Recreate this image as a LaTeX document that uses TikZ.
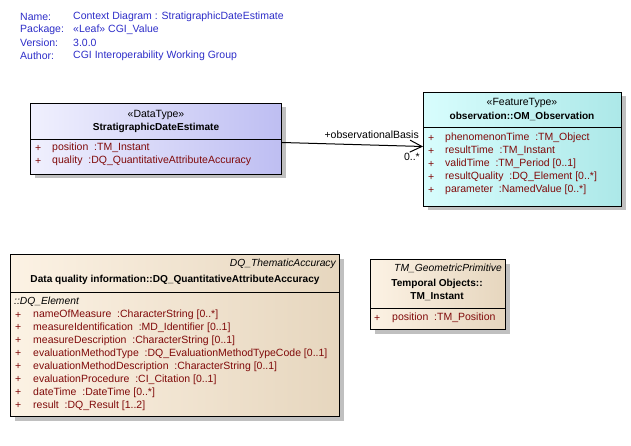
\documentclass[tikz,border=0pt]{standalone}
\usepackage{fontspec}
\setmainfont{Liberation Sans}
\usetikzlibrary{shadows,calc,arrows.meta}
\definecolor{hdrblue}{RGB}{45,45,200}
\definecolor{attred}{RGB}{128,10,10}
\definecolor{dtL}{RGB}{240,240,254}
\definecolor{dtR}{RGB}{190,190,242}
\definecolor{ftL}{RGB}{216,253,253}
\definecolor{ftR}{RGB}{172,232,232}
\definecolor{clL}{RGB}{252,242,228}
\definecolor{clR}{RGB}{230,214,190}
\definecolor{shadowgray}{RGB}{192,192,192}
\tikzset{
  classbox/.style={draw=black, line width=1pt, inner sep=0pt, anchor=north west,
    drop shadow={shadow xshift=4pt, shadow yshift=-4pt, fill=shadowgray, opacity=1}},
  txt/.style={inner sep=0pt, anchor=west},
  hdr/.style={txt, text=hdrblue},
  attr/.style={txt, text=attred},
  stereo/.style={inner sep=0pt},
  cname/.style={inner sep=0pt, font=\fontsize{10.1}{12}\selectfont\bfseries},
  ital/.style={inner sep=0pt, font=\fontsize{10.3}{12}\selectfont\itshape},
  divider/.style={draw=black, line width=1pt},
  assoc/.style={draw=black, line width=1pt, -{Straight Barb[length=12pt,width=12pt,line width=1pt]}},
  lbl/.style={inner sep=0pt}
}
\begin{document}
\begin{tikzpicture}[x=1pt,y=-1pt, font=\fontsize{10.5}{12}\selectfont]
\useasboundingbox (0,0) rectangle (631,446);
% header
\node[hdr] (h1) at (20,17) {Name:};
\node[hdr] (h2) at (20,30) {Package:};
\node[hdr] (h3) at (20,43) {Version:};
\node[hdr] (h4) at (20,56) {Author:};
\node[hdr] (v1) at (73,17) {Context Diagram : StratigraphicDateEstimate};
\node[hdr] (v2) at (73,30) {«Leaf» CGI\_Value};
\node[hdr] (v3) at (73,43) {3.0.0};
\node[hdr] (v4) at (73,56) {CGI Interoperability Working Group};

% Box 1: StratigraphicDateEstimate
\node[classbox, left color=dtL, right color=dtR, minimum width=251pt, minimum height=71pt] (b1) at (30,103) {};
\draw[divider] (30,140) -- (281,140);
\node[stereo] (b1s) at (156,115) {«DataType»};
\node[cname] (b1n) at (156,128) {StratigraphicDateEstimate};
\node[attr] (b1p1) at (35,148) {+};
\node[attr] (b1a1) at (52,148) {position\ \ :TM\_Instant};
\node[attr] (b1p2) at (35,161) {+};
\node[attr] (b1a2) at (52,161) {quality\ \ :DQ\_QuantitativeAttributeAccuracy};

% Box 2: OM_Observation
\node[classbox, left color=ftL, right color=ftR, minimum width=198pt, minimum height=114pt] (b2) at (423,92) {};
\draw[divider] (423,128) -- (621,128);
\node[stereo] (b2s) at (522,103) {«FeatureType»};
\node[cname] (b2n) at (522,116) {observation::OM\_Observation};
\foreach \i/\t in {0/{phenomenonTime\ \ :TM\_Object},1/{resultTime\ \ :TM\_Instant},2/{validTime\ \ :TM\_Period [0..1]},3/{resultQuality\ \ :DQ\_Element [0..*]},4/{parameter\ \ :NamedValue [0..*]}}{
  \node[attr] (b2p\i) at (428,138+13*\i) {+};
  \node[attr] (b2a\i) at (445,138+13*\i) {\t};
}

% association
\draw[assoc] ([yshift=-3.5pt]b1.east) -- ([yshift=3pt]b2.west);
\node[lbl, anchor=east] (al1) at (419,135) {+observationalBasis};
\node[lbl, anchor=east] (al2) at (420,157) {0..*};

% Box 3: DQ_QuantitativeAttributeAccuracy
\node[classbox, left color=clL, right color=clR, minimum width=329pt, minimum height=162pt] (b3) at (10,254) {};
\draw[divider] (10,292) -- (339,292);
\node[ital, anchor=east] (b3g) at (336,264) {DQ\_ThematicAccuracy};
\node[cname] (b3n) at (175,280) {Data quality information::DQ\_QuantitativeAttributeAccuracy};
\node[ital, anchor=west] (b3e) at (14,302) {::DQ\_Element};
\foreach \i/\t in {0/{nameOfMeasure\ \ :CharacterString [0..*]},1/{measureIdentification\ \ :MD\_Identifier [0..1]},2/{measureDescription\ \ :CharacterString [0..1]},3/{evaluationMethodType\ \ :DQ\_EvaluationMethodTypeCode [0..1]},4/{evaluationMethodDescription\ \ :CharacterString [0..1]},5/{evaluationProcedure\ \ :CI\_Citation [0..1]},6/{dateTime\ \ :DateTime [0..*]},7/{result\ \ :DQ\_Result [1..2]}}{
  \node[attr] (b3p\i) at (15,315+12.9*\i) {+};
  \node[attr] (b3a\i) at (33,315+12.9*\i) {\t};
}

% Box 4: TM_Instant
\node[classbox, left color=clL, right color=clR, minimum width=135pt, minimum height=70pt] (b4) at (370,259) {};
\draw[divider] (370,308) -- (505,308);
\node[ital, anchor=east] (b4g) at (502,268) {TM\_GeometricPrimitive};
\node[cname] (b4n1) at (437,284) {Temporal Objects::};
\node[cname] (b4n2) at (437,297) {TM\_Instant};
\node[attr] (b4p) at (374,318) {+};
\node[attr] (b4a) at (392,318) {position\ \ :TM\_Position};
\end{tikzpicture}
\end{document}
